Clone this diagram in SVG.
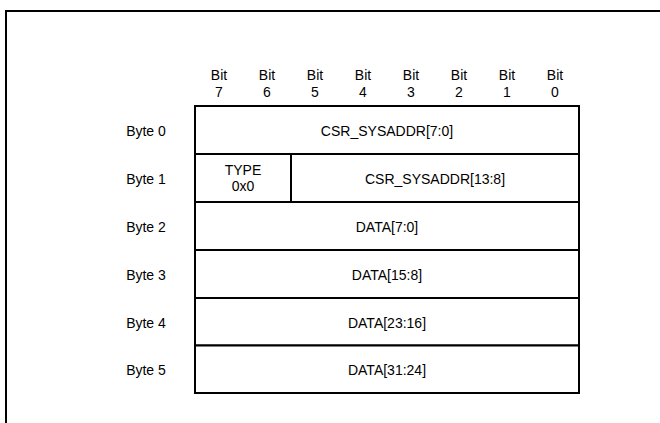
<svg xmlns="http://www.w3.org/2000/svg" width="660" height="423" viewBox="0 0 660 423">
<style>
text{font-family:"Liberation Sans",Arial,sans-serif;font-size:14px;fill:#000;text-anchor:middle}
.cell{fill:#fff;stroke:#000;stroke-width:2}
.frame{fill:none;stroke:#000;stroke-width:2}
</style>
<rect width="660" height="423" fill="#fff"/>
<rect class="frame" x="6" y="11" width="680" height="440"/>
<g id="bit-labels">
<text x="219" y="80">Bit</text><text x="219" y="97">7</text>
<text x="267" y="80">Bit</text><text x="267" y="97">6</text>
<text x="315" y="80">Bit</text><text x="315" y="97">5</text>
<text x="363" y="80">Bit</text><text x="363" y="97">4</text>
<text x="411" y="80">Bit</text><text x="411" y="97">3</text>
<text x="459" y="80">Bit</text><text x="459" y="97">2</text>
<text x="507" y="80">Bit</text><text x="507" y="97">1</text>
<text x="555" y="80">Bit</text><text x="555" y="97">0</text>
</g>
<g id="byte0">
<text x="146" y="136">Byte 0</text>
<rect class="cell" x="195" y="106" width="384" height="48"/>
<text x="387" y="136">CSR_SYSADDR[7:0]</text>
</g>
<g id="byte1">
<text x="146" y="184">Byte 1</text>
<rect class="cell" x="195" y="154" width="96" height="48"/>
<text x="243" y="175">TYPE</text>
<text x="243" y="191">0x0</text>
<rect class="cell" x="291" y="154" width="288" height="48"/>
<text x="435" y="184">CSR_SYSADDR[13:8]</text>
</g>
<g id="byte2">
<text x="146" y="232">Byte 2</text>
<rect class="cell" x="195" y="202" width="384" height="48"/>
<text x="387" y="232">DATA[7:0]</text>
</g>
<g id="byte3">
<text x="146" y="280">Byte 3</text>
<rect class="cell" x="195" y="250" width="384" height="48"/>
<text x="387" y="280">DATA[15:8]</text>
</g>
<g id="byte4">
<text x="146" y="328">Byte 4</text>
<rect class="cell" x="195" y="298" width="384" height="47.5"/>
<text x="387" y="328">DATA[23:16]</text>
</g>
<g id="byte5">
<text x="146" y="375">Byte 5</text>
<rect class="cell" x="195" y="345.5" width="384" height="47.5"/>
<text x="387" y="375">DATA[31:24]</text>
</g>
<g id="connectors"/>
</svg>
